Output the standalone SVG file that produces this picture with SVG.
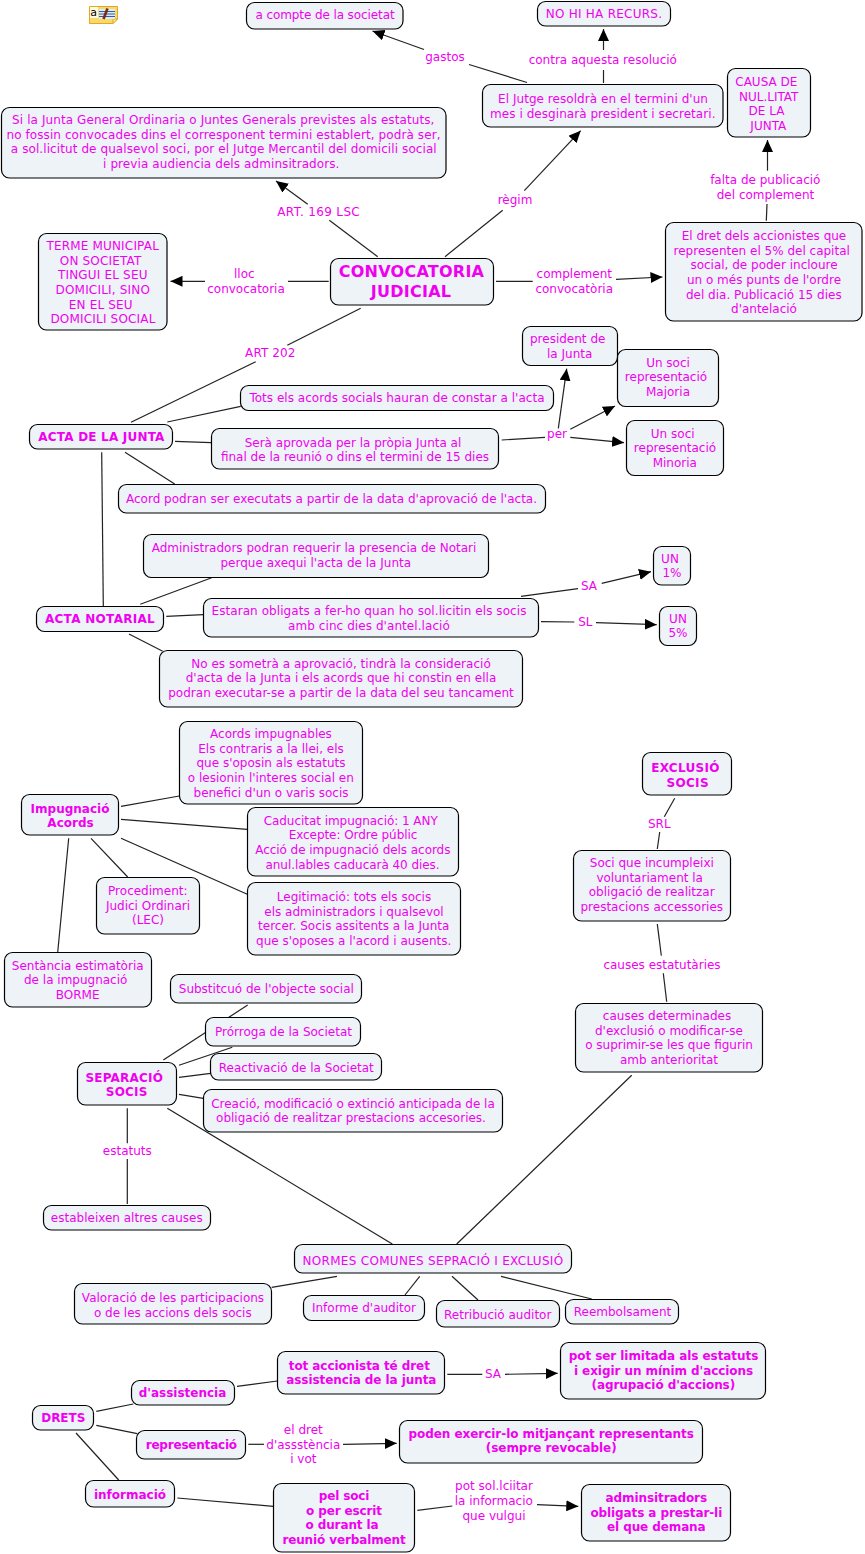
<svg xmlns="http://www.w3.org/2000/svg" width="865" height="1554" viewBox="0 0 865 1554">
<style>
text{font-family:"DejaVu Sans",Verdana,sans-serif;font-size:12px;fill:#f000f0;text-anchor:middle}
.n{fill:#edf3f6;stroke:#000;stroke-width:1.2}
.b text{font-weight:bold}
.c line{stroke:#222;stroke-width:1.2}
.a{marker-end:url(#ah)}
</style>
<defs><marker id="ah" markerUnits="userSpaceOnUse" markerWidth="12" markerHeight="11" refX="12" refY="5.500" orient="auto"><path d="M0,0L12,5.500L0,11z" fill="#000"/></marker></defs>
<g id="icon"><path d="M89.500,6.500H117.500V19L113,23.500H89.500z" fill="#fbd968" stroke="#e0a820"/><path d="M113,23.500V19H117.500z" fill="#fff0a8" stroke="#e0a820"/><rect x="90" y="7" width="8" height="11" fill="#fffbe0"/><rect x="99" y="9" width="16" height="10" fill="#dfeaf6"/><path d="M99,11.500h16M99,14h16M99,16.500h16" stroke="#2a5fb0" stroke-width="1"/><path d="M103.500,19L107.500,8.500" stroke="#7a2a10" stroke-width="2.600"/><text x="93.500" y="15.500" style="fill:#000;font-size:11px">a</text></g>
<g class="c" id="connectors">
<line x1="527" y1="82.500" x2="469" y2="64.500"/><line class="a" x1="424" y1="49.500" x2="372.500" y2="31"/>
<line x1="603.500" y1="83" x2="603.500" y2="70"/><line class="a" x1="603.500" y1="50" x2="603.500" y2="29"/>
<line x1="766.300" y1="220.700" x2="767" y2="204"/><line class="a" x1="767.500" y1="170.700" x2="767.500" y2="140"/>
<line x1="445" y1="256.700" x2="502.700" y2="210.300"/><line class="a" x1="524.300" y1="190.700" x2="580.700" y2="130.700"/>
<line x1="377.700" y1="256.700" x2="329.300" y2="220.300"/><line class="a" x1="307.700" y1="204.300" x2="276" y2="181"/>
<line x1="328.700" y1="281.300" x2="288" y2="281.300"/><line class="a" x1="205" y1="281.300" x2="170.500" y2="281.300"/>
<line x1="496" y1="281.300" x2="532.700" y2="281.300"/><line class="a" x1="616" y1="279.300" x2="662.500" y2="277"/>
<line x1="360.700" y1="308.300" x2="287.300" y2="345.300"/><line x1="255.700" y1="361.700" x2="131" y2="422.300"/>
<line x1="167.300" y1="422" x2="240.700" y2="406.300"/><line x1="175" y1="441.300" x2="211" y2="442.700"/>
<line x1="501.700" y1="440" x2="545" y2="437.300"/><line class="a" x1="558.300" y1="428.300" x2="566.700" y2="368.700"/>
<line class="a" x1="570.300" y1="429.300" x2="615" y2="406"/><line class="a" x1="570.300" y1="437.300" x2="624" y2="442.700"/>
<line x1="125" y1="452.300" x2="174.700" y2="484"/><line x1="101.700" y1="452.300" x2="103.300" y2="606"/>
<line x1="140.300" y1="604.300" x2="211.700" y2="577.700"/><line x1="166.300" y1="616.300" x2="203.300" y2="614.700"/>
<line x1="129" y1="634" x2="162.700" y2="651.300"/>
<line x1="521" y1="596.300" x2="578" y2="588.700"/><line class="a" x1="601.700" y1="583.300" x2="651" y2="571.700"/>
<line x1="541" y1="621.700" x2="574.300" y2="622"/><line class="a" x1="596" y1="622.700" x2="656.700" y2="624.700"/>
<line x1="121" y1="806.300" x2="179.300" y2="796"/><line x1="121" y1="819.300" x2="247.300" y2="829.300"/>
<line x1="121" y1="838.300" x2="247.300" y2="894.300"/><line x1="91" y1="838.300" x2="127.700" y2="877"/>
<line x1="68.700" y1="838.300" x2="57.700" y2="952.300"/>
<line x1="163.300" y1="1060" x2="247.700" y2="1005"/><line x1="179" y1="1065.300" x2="232.300" y2="1047.300"/>
<line x1="179" y1="1077.300" x2="210.700" y2="1073.300"/><line x1="179" y1="1094.300" x2="203.300" y2="1098.300"/>
<line x1="167.300" y1="1108.300" x2="392.300" y2="1244"/>
<line x1="127.300" y1="1108.300" x2="127.300" y2="1143.300"/><line x1="127.300" y1="1159" x2="127.300" y2="1204"/>
<line x1="674.700" y1="798.300" x2="664.300" y2="816.700"/><line x1="659.700" y1="832" x2="657.300" y2="849"/>
<line x1="657.300" y1="924" x2="661.300" y2="955.700"/><line x1="663.300" y1="973.300" x2="666.700" y2="1001.700"/>
<line x1="631.700" y1="1075.300" x2="456.700" y2="1244"/>
<line x1="337" y1="1276.300" x2="271.700" y2="1287.300"/><line x1="419.700" y1="1276.300" x2="405" y2="1295"/>
<line x1="452" y1="1276.300" x2="478" y2="1300"/><line x1="501" y1="1276.300" x2="591.700" y2="1299"/>
<line x1="96.300" y1="1411.300" x2="133.300" y2="1404"/><line x1="96.300" y1="1425.300" x2="137.300" y2="1433.700"/>
<line x1="76" y1="1433" x2="118.700" y2="1480"/><line x1="237" y1="1386.300" x2="277.300" y2="1381"/>
<line x1="447.300" y1="1374.300" x2="482.300" y2="1374.300"/><line class="a" x1="505" y1="1374.300" x2="557.700" y2="1373.300"/>
<line x1="248.300" y1="1444.300" x2="264" y2="1444.300"/><line class="a" x1="343" y1="1444.300" x2="396.700" y2="1443.300"/>
<line x1="177.300" y1="1498" x2="273.300" y2="1506.300"/>
<line x1="417.300" y1="1510.300" x2="452.300" y2="1506"/><line class="a" x1="537" y1="1504.700" x2="578.300" y2="1506.300"/>
</g>
<g id="n-compte"><rect class="n" x="246.500" y="2.500" width="156.500" height="26.500" rx="8"/><text x="325" y="19" letter-spacing="-.1">a compte de la societat</text></g>
<g id="n-si"><rect class="n" x="1.500" y="107.500" width="444.500" height="70.500" rx="8"/><text letter-spacing=".09"><tspan x="223.300" y="124">Si la Junta General Ordinaria o Juntes Generals previstes als estatuts,</tspan><tspan x="223.500" y="138.700">no fossin convocades dins el corresponent termini establert, podrà ser,</tspan><tspan x="223.800" y="153.300">a sol.licitut de qualsevol soci, por el Jutge Mercantil del domicili social</tspan><tspan x="221.300" y="168">i previa audiencia dels adminsitradors.</tspan></text></g>
<g id="n-terme"><rect class="n" x="38.500" y="233.500" width="128.500" height="96.500" rx="8"/><text letter-spacing=".18"><tspan x="102.700" y="250">TERME MUNICIPAL</tspan><tspan x="100.700" y="264.700">ON SOCIETAT</tspan><tspan x="102.800" y="279.300">TINGUI EL SEU</tspan><tspan x="102.800" y="294">DOMICILI, SINO</tspan><tspan x="100.800" y="308.700">EN EL SEU</tspan><tspan x="103" y="323.300">DOMICILI SOCIAL</tspan></text></g>
<g id="n-conv" class="b"><rect class="n" x="330.500" y="258.500" width="163" height="46.500" rx="8"/><text style="font-size:16px" letter-spacing=".25"><tspan x="411.500" y="277">CONVOCATORIA</tspan><tspan x="411" y="297">JUDICIAL</tspan></text></g>
<g id="n-nohi"><rect class="n" x="537.500" y="1.500" width="133" height="24.500" rx="8"/><text x="604" y="18" letter-spacing=".25">NO HI HA RECURS.</text></g>
<g id="n-jutge"><rect class="n" x="482.500" y="84.500" width="240.500" height="42.500" rx="8"/><text letter-spacing=".05"><tspan x="603" y="103">El Jutge resoldrà en el termini d'un</tspan><tspan x="602.800" y="117.700">mes i desginarà president i secretari.</tspan></text></g>
<g id="n-causa"><rect class="n" x="727.500" y="68.500" width="83" height="68.500" rx="8"/><text><tspan x="766.300" y="86">CAUSA DE</tspan><tspan x="768.700" y="100.700">NUL.LITAT</tspan><tspan x="766.500" y="115.300">DE LA</tspan><tspan x="768.300" y="130">JUNTA</tspan></text></g>
<g id="n-dret"><rect class="n" x="665.500" y="222.500" width="196.500" height="98.500" rx="8"/><text><tspan x="764" y="240">El dret dels accionistes que</tspan><tspan x="761.700" y="254.700">representen el 5% del capital</tspan><tspan x="764" y="269.300">social, de poder incloure</tspan><tspan x="764" y="284">un o més punts de l'ordre</tspan><tspan x="763.800" y="298.700">del dia. Publicació 15 dies</tspan><tspan x="764" y="313.300">d'antelació</tspan></text></g>
<g id="l-gastos"><text x="445" y="61">gastos</text></g>
<g id="l-contra"><text x="602.800" y="63.700">contra aquesta resolució</text></g>
<g id="l-falta"><text><tspan x="765.300" y="184">falta de publicació</tspan><tspan x="765.500" y="198.600">del complement</tspan></text></g>
<g id="l-regim"><text x="515" y="203.700">règim</text></g>
<g id="l-art169"><text x="318.700" y="215.700" letter-spacing=".35">ART. 169 LSC</text></g>
<g id="l-lloc"><text><tspan x="244.300" y="278">lloc</tspan><tspan x="246" y="292.700">convocatoria</tspan></text></g>
<g id="l-compl"><text><tspan x="574.300" y="278">complement</tspan><tspan x="574.200" y="292.700">convocatòria</tspan></text></g>
<g id="l-art202"><text x="270.300" y="356.700" letter-spacing=".1">ART 202</text></g>
<g id="n-tots"><rect class="n" x="240.500" y="385.500" width="313" height="25" rx="8"/><text x="397" y="402" letter-spacing=".03">Tots els acords socials hauran de constar a l'acta</text></g>
<g id="n-sera"><rect class="n" x="211.500" y="428.500" width="287" height="40.500" rx="8"/><text><tspan x="353" y="446.700">Serà aprovada per la pròpia Junta al</tspan><tspan x="355" y="461">final de la reunió o dins el termini de 15 dies</tspan></text></g>
<g id="n-acord"><rect class="n" x="118.500" y="484.500" width="427" height="28.500" rx="8"/><text x="331.500" y="502.700" letter-spacing=".02">Acord podran ser executats a partir de la data d'aprovació de l'acta.</text></g>
<g id="n-pres"><rect class="n" x="522.500" y="326.500" width="95" height="39" rx="8"/><text><tspan x="567.700" y="343.300">president de</tspan><tspan x="569.700" y="357.600">la Junta</tspan></text></g>
<g id="n-maj"><rect class="n" x="617.500" y="349.500" width="101" height="57" rx="8"/><text><tspan x="668" y="366.700">Un soci</tspan><tspan x="666" y="381.300">representació</tspan><tspan x="668" y="396">Majoria</tspan></text></g>
<g id="n-min"><rect class="n" x="626.500" y="420.500" width="97" height="55" rx="8"/><text><tspan x="672.700" y="437.700">Un soci</tspan><tspan x="675" y="452.300">representació</tspan><tspan x="674.800" y="467">Minoria</tspan></text></g>
<g id="l-per"><text x="557" y="437.700">per</text></g>
<g id="n-acta" class="b"><rect class="n" x="29.500" y="424.500" width="143" height="24.500" rx="8"/><text x="101.500" y="440.700" letter-spacing=".2">ACTA DE LA JUNTA</text></g>
<g id="n-notarial" class="b"><rect class="n" x="36.500" y="606.500" width="127" height="25" rx="8"/><text x="100" y="622.700" letter-spacing=".3">ACTA NOTARIAL</text></g>
<g id="n-admin"><rect class="n" x="143.500" y="534.500" width="345" height="43" rx="8"/><text><tspan x="314" y="552">Administradors podran requerir la presencia de Notari</tspan><tspan x="315.800" y="566.700">perque axequi l'acta de la Junta</tspan></text></g>
<g id="n-estaran"><rect class="n" x="203.500" y="598.500" width="335" height="38.500" rx="8"/><text letter-spacing=".07"><tspan x="369" y="615">Estaran obligats a fer-ho quan ho sol.licitin els socis</tspan><tspan x="369" y="629.700">amb cinc dies d'antel.lació</tspan></text></g>
<g id="n-no"><rect class="n" x="159.500" y="650.500" width="363" height="56.500" rx="8"/><text letter-spacing=".03"><tspan x="341" y="667.700">No es sometrà a aprovació, tindrà la consideració</tspan><tspan x="341" y="682.300">d'acta de la Junta i els acords que hi constin en ella</tspan><tspan x="341" y="697">podran executar-se a partir de la data del seu tancament</tspan></text></g>
<g id="n-un1"><rect class="n" x="653.500" y="546.500" width="37" height="38.500" rx="8"/><text><tspan x="670" y="562.700">UN</tspan><tspan x="672" y="577.300">1%</tspan></text></g>
<g id="n-un5"><rect class="n" x="659.500" y="606.500" width="37" height="39" rx="8"/><text><tspan x="678" y="622.700">UN</tspan><tspan x="678" y="637.300">5%</tspan></text></g>
<g id="l-sa"><text x="589" y="590">SA</text></g>
<g id="l-sl"><text x="585.300" y="626">SL</text></g>
<g id="n-imp" class="b"><rect class="n" x="21.500" y="794.500" width="97" height="40.500" rx="8"/><text><tspan x="70" y="812.700">Impugnació</tspan><tspan x="70.500" y="827.300">Acords</tspan></text></g>
<g id="n-acimp"><rect class="n" x="179.500" y="721.500" width="183" height="82.500" rx="8"/><text><tspan x="271" y="738">Acords impugnables</tspan><tspan x="271" y="752.700">Els contraris a la llei, els</tspan><tspan x="271" y="767.300">que s'oposin als estatuts</tspan><tspan x="270.800" y="782">o lesionin l'interes social en</tspan><tspan x="271" y="796.700">benefici d'un o varis socis</tspan></text></g>
<g id="n-cad"><rect class="n" x="247.500" y="807.500" width="211" height="68.500" rx="8"/><text letter-spacing="-.05"><tspan x="350.700" y="824.700">Caducitat impugnació: 1 ANY</tspan><tspan x="353" y="839.300">Excepte: Ordre públic</tspan><tspan x="352.800" y="854">Acció de impugnació dels acords</tspan><tspan x="352.500" y="868.700">anul.lables caducarà 40 dies.</tspan></text></g>
<g id="n-leg"><rect class="n" x="247.500" y="882.500" width="213" height="72.500" rx="8"/><text><tspan x="354" y="901">Legitimació: tots els socis</tspan><tspan x="354" y="915.700">els administradors i qualsevol</tspan><tspan x="353.700" y="930.300">tercer. Socis assitents a la Junta</tspan><tspan x="353.700" y="945">que s'oposes a l'acord i ausents.</tspan></text></g>
<g id="n-proc"><rect class="n" x="96.500" y="877.500" width="103" height="56.500" rx="8"/><text><tspan x="147.800" y="895">Procediment:</tspan><tspan x="148" y="909.700">Judici Ordinari</tspan><tspan x="148" y="924.300">(LEC)</tspan></text></g>
<g id="n-sent"><rect class="n" x="4.500" y="952.500" width="147" height="54.500" rx="8"/><text><tspan x="77.700" y="969.700">Sentància estimatòria</tspan><tspan x="75.700" y="984.300">de la impugnació</tspan><tspan x="77.700" y="999">BORME</tspan></text></g>
<g id="n-subst"><rect class="n" x="170.500" y="974.500" width="191" height="28.500" rx="8"/><text x="266.300" y="992.700">Substitcuó de l'objecte social</text></g>
<g id="n-pror"><rect class="n" x="205.500" y="1017.500" width="155" height="28.500" rx="8"/><text x="283.500" y="1035.700">Prórroga de la Societat</text></g>
<g id="n-react"><rect class="n" x="210.500" y="1053.500" width="171" height="26.500" rx="8"/><text x="296.300" y="1071.700">Reactivació de la Societat</text></g>
<g id="n-crea"><rect class="n" x="203.500" y="1089.500" width="299" height="42.500" rx="8"/><text><tspan x="353" y="1107.700">Creació, modificació o extinció anticipada de la</tspan><tspan x="351" y="1122.300">obligació de realitzar prestacions accesories.</tspan></text></g>
<g id="n-sep" class="b"><rect class="n" x="77.500" y="1062.500" width="99" height="42.500" rx="8"/><text letter-spacing=".2"><tspan x="124.300" y="1081.700">SEPARACIÓ</tspan><tspan x="126.700" y="1096.300">SOCIS</tspan></text></g>
<g id="l-estatuts"><text x="127.300" y="1155.300">estatuts</text></g>
<g id="n-estab"><rect class="n" x="43.500" y="1205.500" width="167" height="24.500" rx="8"/><text x="126.800" y="1221.700">estableixen altres causes</text></g>
<g id="n-excl" class="b"><rect class="n" x="642.500" y="752.500" width="89" height="42.500" rx="8"/><text letter-spacing=".3"><tspan x="685.500" y="772.300">EXCLUSIÓ</tspan><tspan x="687.700" y="787">SOCIS</tspan></text></g>
<g id="l-srl"><text x="659.300" y="828">SRL</text></g>
<g id="n-soci"><rect class="n" x="573.500" y="850.500" width="157" height="70.500" rx="8"/><text><tspan x="651.800" y="867">Soci que incumpleixi</tspan><tspan x="649.700" y="881.700">voluntariament la</tspan><tspan x="651.700" y="896.300">obligació de realitzar</tspan><tspan x="651.800" y="911">prestacions accessories</tspan></text></g>
<g id="l-causes"><text x="662" y="969">causes estatutàries</text></g>
<g id="n-causes"><rect class="n" x="575.500" y="1003.500" width="187" height="68.500" rx="8"/><text><tspan x="667" y="1020">causes determinades</tspan><tspan x="669" y="1034.700">d'exclusió o modificar-se</tspan><tspan x="669" y="1049.300">o suprimir-se les que figurin</tspan><tspan x="669" y="1064">amb anterioritat</tspan></text></g>
<g id="n-normes"><rect class="n" x="294.500" y="1244.500" width="277" height="28.500" rx="8"/><text x="433" y="1265" letter-spacing=".3">NORMES COMUNES SEPRACIÓ I EXCLUSIÓ</text></g>
<g id="n-val"><rect class="n" x="74.500" y="1283.500" width="197" height="40.500" rx="8"/><text><tspan x="173" y="1302">Valoració de les participacions</tspan><tspan x="172.800" y="1316.700">o de les accions dels socis</tspan></text></g>
<g id="n-inf"><rect class="n" x="303.500" y="1295.500" width="121" height="25" rx="8"/><text x="364" y="1312">Informe d'auditor</text></g>
<g id="n-ret"><rect class="n" x="436.500" y="1300.500" width="123" height="26.500" rx="8"/><text x="497.700" y="1319">Retribució auditor</text></g>
<g id="n-reem"><rect class="n" x="565.500" y="1299.500" width="113" height="24.500" rx="8"/><text x="622.500" y="1316">Reembolsament</text></g>
<g id="n-drets" class="b"><rect class="n" x="32.500" y="1405.500" width="61" height="24.500" rx="8"/><text x="63.300" y="1421.700">DRETS</text></g>
<g id="n-dass" class="b"><rect class="n" x="131.500" y="1380.500" width="103" height="24.500" rx="8"/><text x="182.500" y="1397">d'assistencia</text></g>
<g id="n-rep" class="b"><rect class="n" x="136.500" y="1430.500" width="109" height="28.500" rx="8"/><text x="191.300" y="1449" letter-spacing="-.2">representació</text></g>
<g id="n-info" class="b"><rect class="n" x="85.500" y="1480.500" width="89" height="26.500" rx="8"/><text x="130" y="1498.700">informació</text></g>
<g id="n-tot" class="b"><rect class="n" x="277.500" y="1351.500" width="167" height="42.500" rx="8"/><text letter-spacing="-.08"><tspan x="359.300" y="1369.700">tot accionista té dret</tspan><tspan x="361.300" y="1384.300">assistencia de la junta</tspan></text></g>
<g id="l-sa2"><text x="493" y="1377.700">SA</text></g>
<g id="n-potser" class="b"><rect class="n" x="560.500" y="1342.500" width="205" height="56.500" rx="8"/><text letter-spacing="-.07"><tspan x="663.500" y="1360">pot ser limitada als estatuts</tspan><tspan x="663.500" y="1374.700">i exigir un mínim d'accions</tspan><tspan x="663.300" y="1389.300">(agrupació d'accions)</tspan></text></g>
<g id="l-eldret"><text><tspan x="303.300" y="1434">el dret</tspan><tspan x="303.300" y="1448.700">d'assstència</tspan><tspan x="303.300" y="1463.300">i vot</tspan></text></g>
<g id="n-poden" class="b"><rect class="n" x="399.500" y="1420.500" width="303" height="42.500" rx="8"/><text letter-spacing="-.05"><tspan x="551.200" y="1437.700">poden exercir-lo mitjançant representants</tspan><tspan x="551.200" y="1452.300">(sempre revocable)</tspan></text></g>
<g id="n-pel" class="b"><rect class="n" x="273.500" y="1483.500" width="141" height="68.500" rx="8"/><text letter-spacing="-.12"><tspan x="344" y="1500">pel soci</tspan><tspan x="344" y="1514.700">o per escrit</tspan><tspan x="342" y="1529.300">o durant la</tspan><tspan x="344" y="1544">reunió verbalment</tspan></text></g>
<g id="l-potsol"><text><tspan x="494" y="1490.300">pot sol.lciitar</tspan><tspan x="493.800" y="1505">la informacio</tspan><tspan x="494" y="1519.700">que vulgui</tspan></text></g>
<g id="n-adm" class="b"><rect class="n" x="581.500" y="1484.500" width="149" height="56.500" rx="8"/><text letter-spacing="-.1"><tspan x="656.300" y="1502">adminsitradors</tspan><tspan x="656.300" y="1516.700">obligats a prestar-li</tspan><tspan x="656.300" y="1531.300">el que demana</tspan></text></g>
</svg>
